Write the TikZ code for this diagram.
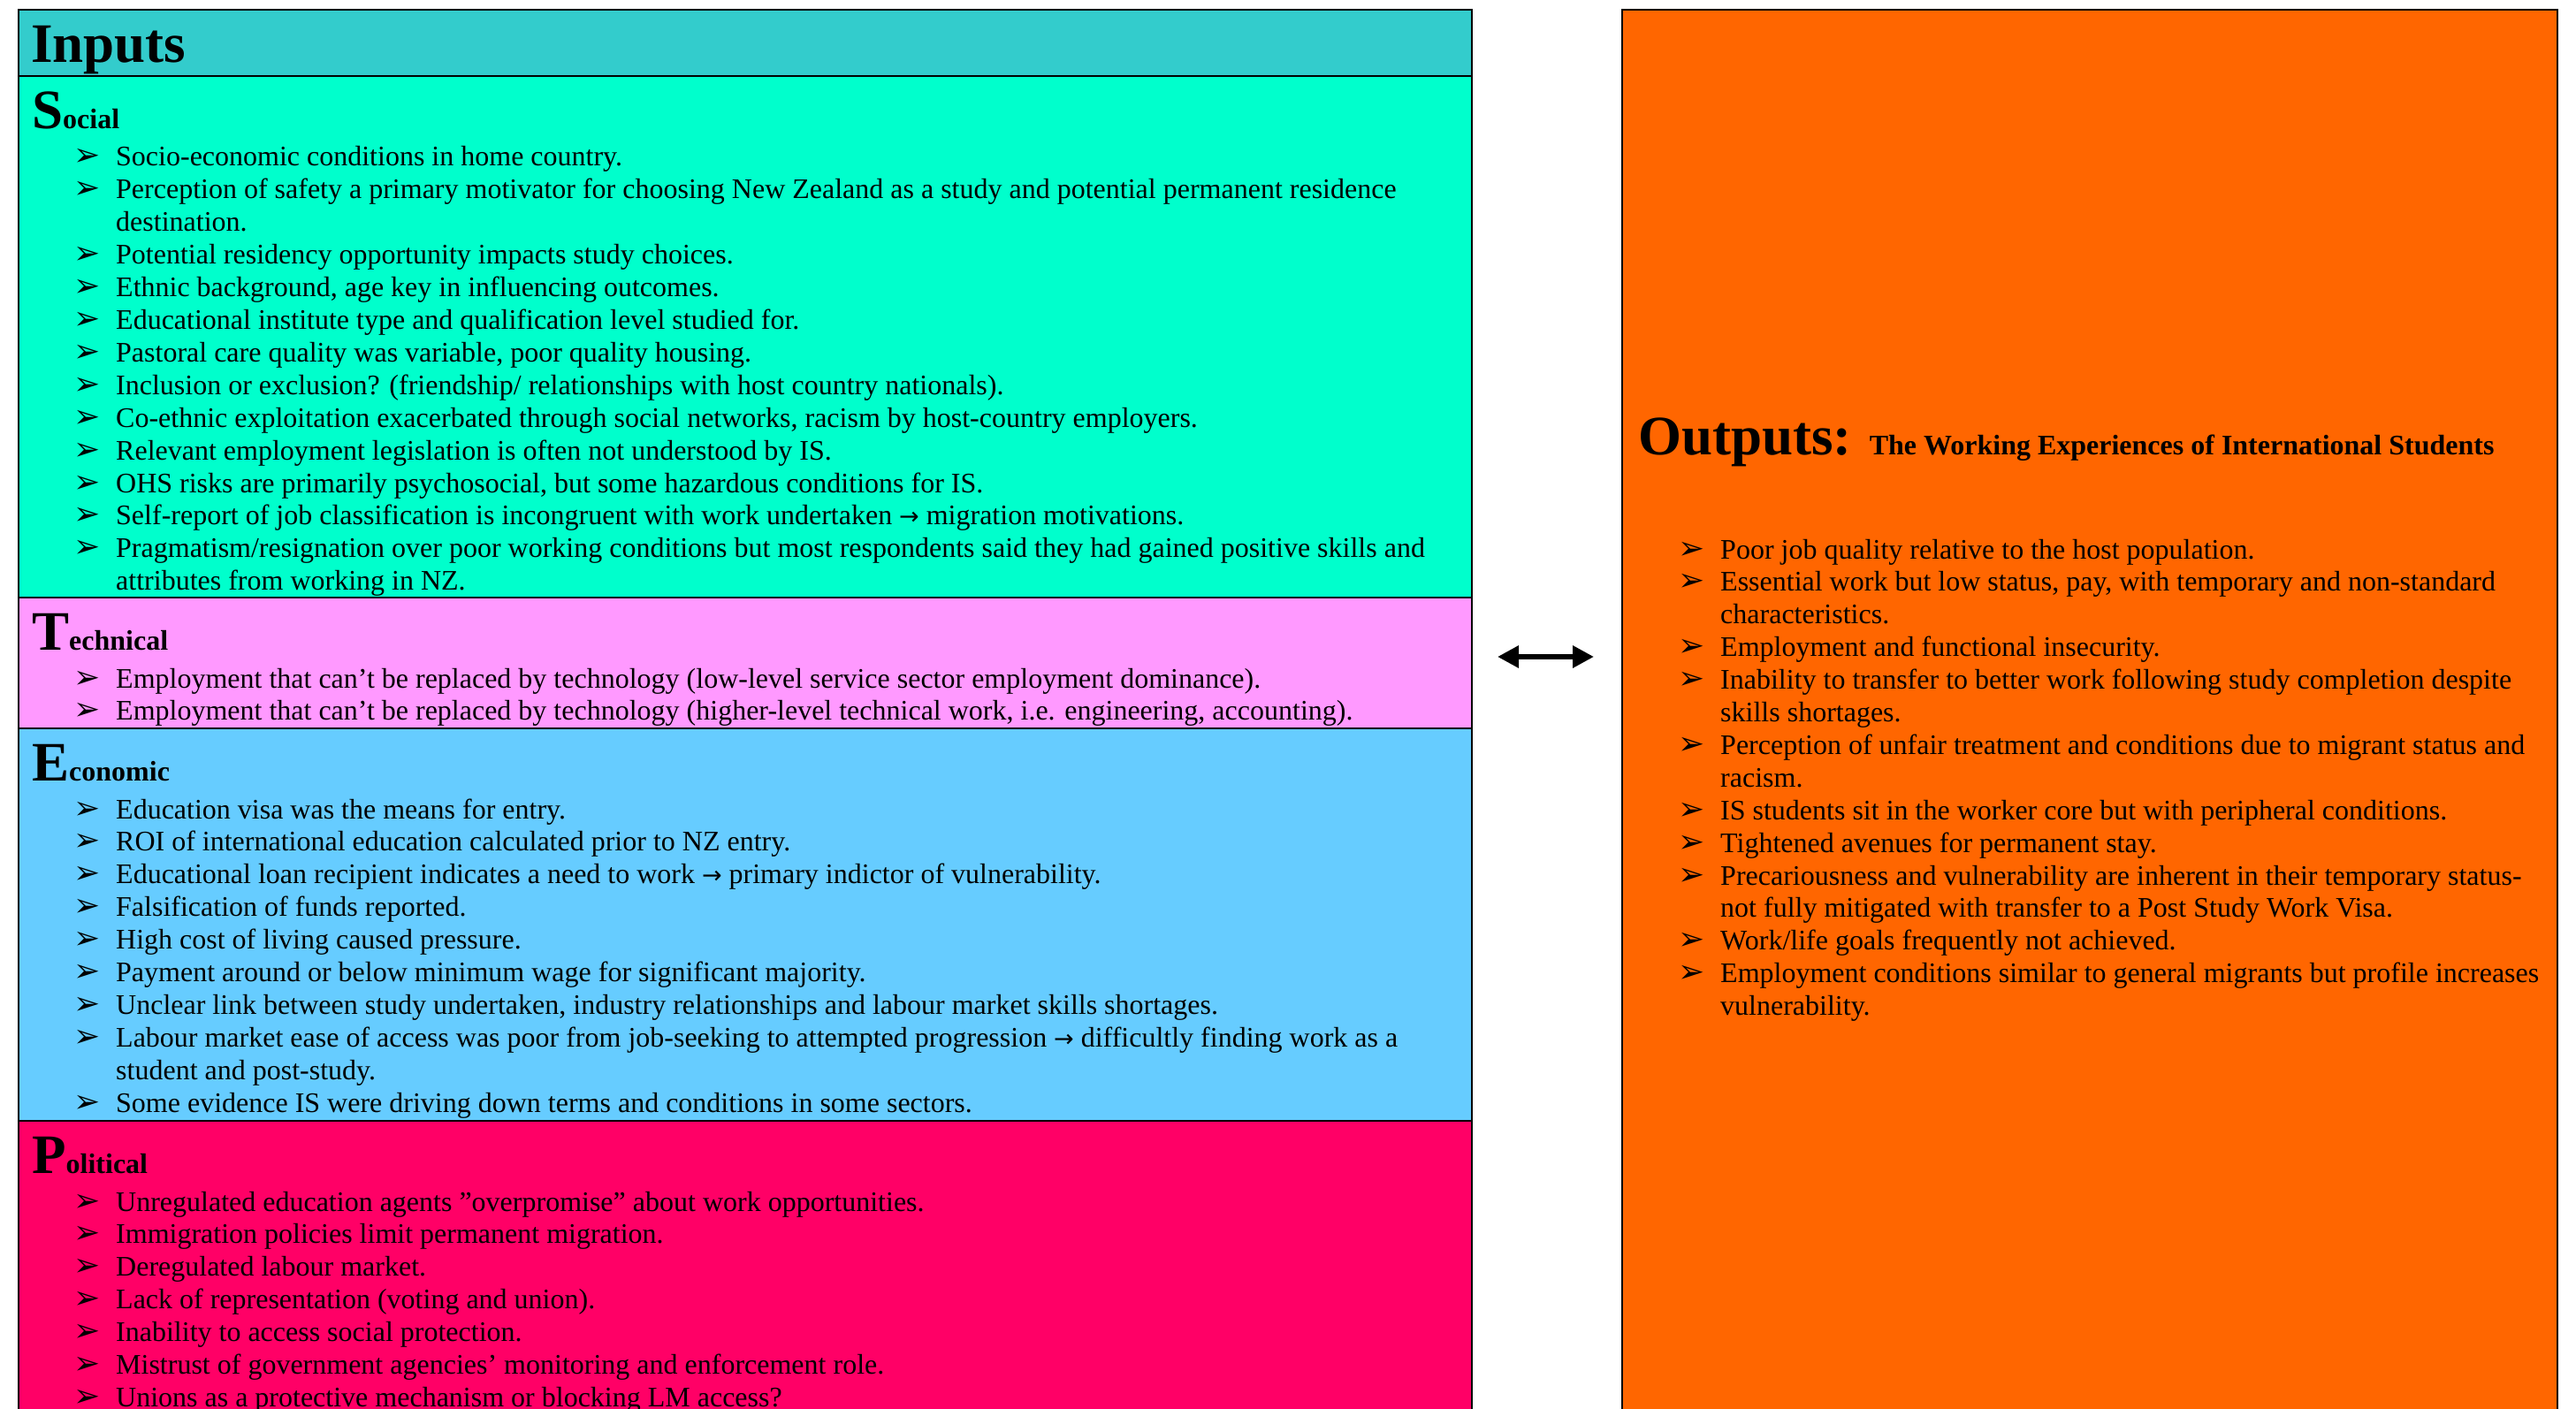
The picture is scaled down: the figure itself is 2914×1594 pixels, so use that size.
\documentclass[tikz,border=0pt]{standalone}
\usepackage{fontspec}
\setmainfont{Liberation Serif}
\newfontfamily\dvfont{DejaVu Sans}
\usetikzlibrary{arrows.meta}
\definecolor{hdrcol}{HTML}{33CCCC}
\definecolor{soccol}{HTML}{00FFCC}
\definecolor{teccol}{HTML}{FF99FF}
\definecolor{ecocol}{HTML}{66CCFF}
\definecolor{polcol}{HTML}{FF0066}
\definecolor{outcol}{HTML}{FF6600}
\newcommand\mybul{\llap{\makebox[48pt][l]{\dvfont\fontsize{36pt}{36pt}\selectfont ➢}}}
\newcommand\myarr{{\dvfont\fontsize{27pt}{27pt}\selectfont →}}
\newcommand\bighd[2]{{\fontsize{63pt}{63pt}\selectfont\bfseries #1}{\fontsize{32pt}{32pt}\selectfont\bfseries #2}}
\newcommand\txtlines[4]{%
  \foreach \t [count=\i] in {#4} {
    \node[txt] (#1-\i) at (#2, {#3+(\i-1)*36.9}) {\t};
  }}
\tikzset{
  txt/.style={anchor=base west, inner sep=0pt, font=\fontsize{32pt}{36.9pt}\selectfont},
  hdtxt/.style={anchor=base west, inner sep=0pt},
  panel/.style={draw=black, line width=2.2pt, anchor=north west, inner sep=0pt}
}
\begin{document}
\begin{tikzpicture}[x=1pt,y=-1pt]
\useasboundingbox (0,0) rectangle (2914,1594);
\clip (0,0) rectangle (2914,1594);
\fill[white] (0,0) rectangle (2914,1594);
% panels
\node[panel, fill=polcol, minimum width=1644pt, minimum height=420pt] (pol) at (20,1267) {};
\node[panel, fill=ecocol, minimum width=1644pt, minimum height=444pt] (eco) at (20,823) {};
\node[panel, fill=teccol, minimum width=1644pt, minimum height=148pt] (tec) at (20,675) {};
\node[panel, fill=soccol, minimum width=1644pt, minimum height=590pt] (soc) at (20,85) {};
\node[panel, fill=hdrcol, minimum width=1644pt, minimum height=75pt] (hdr) at (20,10) {};
\node[panel, fill=outcol, minimum width=1058pt, minimum height=1700pt] (out) at (1834,10) {};
% headings
\node[hdtxt] (inputs) at (35,71) {\fontsize{63pt}{63pt}\selectfont\bfseries Inputs};
\node[hdtxt] (soc-h) at (36,146) {\bighd{S}{ocial}};
\node[hdtxt] (tec-h) at (36,735) {\bighd{T}{echnical}};
\node[hdtxt] (eco-h) at (36,883) {\bighd{E}{conomic}};
\node[hdtxt] (pol-h) at (36,1327) {\bighd{P}{olitical}};
\node[hdtxt] (out-h) at (1853,514) {{\fontsize{63pt}{63pt}\selectfont\bfseries Outputs:}\hspace{20pt}{\fontsize{32pt}{32pt}\selectfont\bfseries The Working Experiences of International Students}};
% lists
\txtlines{s}{131}{188}{
 {\mybul Socio-economic conditions in home country.},
 {\mybul Perception of safety a primary motivator for choosing New Zealand as a study and potential permanent residence},
 {destination.},
 {\mybul Potential residency opportunity impacts study choices.},
 {\mybul Ethnic background, age key in influencing outcomes.},
 {\mybul Educational institute type and qualification level studied for.},
 {\mybul Pastoral care quality was variable, poor quality housing.},
 {\mybul Inclusion or exclusion? (friendship/ relationships with host country nationals).},
 {\mybul Co-ethnic exploitation exacerbated through social networks, racism by host-country employers.},
 {\mybul Relevant employment legislation is often not understood by IS.},
 {\mybul OHS risks are primarily psychosocial, but some hazardous conditions for IS.},
 {\mybul Self-report of job classification is incongruent with work undertaken \myarr{} migration motivations.},
 {\mybul Pragmatism/resignation over poor working conditions but most respondents said they had gained positive skills and},
 {attributes from working in NZ.}}
\txtlines{t}{131}{778}{
 {\mybul Employment that can’t be replaced by technology (low-level service sector employment dominance).},
 {\mybul Employment that can’t be replaced by technology (higher-level technical work, i.e. engineering, accounting).}}
\txtlines{e}{131}{926}{
 {\mybul Education visa was the means for entry.},
 {\mybul ROI of international education calculated prior to NZ entry.},
 {\mybul Educational loan recipient indicates a need to work \myarr{} primary indictor of vulnerability.},
 {\mybul Falsification of funds reported.},
 {\mybul High cost of living caused pressure.},
 {\mybul Payment around or below minimum wage for significant majority.},
 {\mybul Unclear link between study undertaken, industry relationships and labour market skills shortages.},
 {\mybul Labour market ease of access was poor from job-seeking to attempted progression \myarr{} difficultly finding work as a},
 {student and post-study.},
 {\mybul Some evidence IS were driving down terms and conditions in some sectors.}}
\txtlines{p}{131}{1370}{
 {\mybul Unregulated education agents ”overpromise” about work opportunities.},
 {\mybul Immigration policies limit permanent migration.},
 {\mybul Deregulated labour market.},
 {\mybul Lack of representation (voting and union).},
 {\mybul Inability to access social protection.},
 {\mybul Mistrust of government agencies’ monitoring and enforcement role.},
 {\mybul Unions as a protective mechanism or blocking LM access?}}
\txtlines{o}{1946}{632}{
 {\mybul Poor job quality relative to the host population.},
 {\mybul Essential work but low status, pay, with temporary and non-standard},
 {characteristics.},
 {\mybul Employment and functional insecurity.},
 {\mybul Inability to transfer to better work following study completion despite},
 {skills shortages.},
 {\mybul Perception of unfair treatment and conditions due to migrant status and},
 {racism.},
 {\mybul IS students sit in the worker core but with peripheral conditions.},
 {\mybul Tightened avenues for permanent stay.},
 {\mybul Precariousness and vulnerability are inherent in their temporary status-},
 {not fully mitigated with transfer to a Post Study Work Visa.},
 {\mybul Work/life goals frequently not achieved.},
 {\mybul Employment conditions similar to general migrants but profile increases},
 {vulnerability.}}
% double arrow
\coordinate (al) at (1694,743);
\coordinate (ar) at (1803,743);
\draw[line width=6pt, {Triangle[length=24pt,width=24pt]}-{Triangle[length=24pt,width=24pt]}] (al) -- (ar);
\end{tikzpicture}
\end{document}
